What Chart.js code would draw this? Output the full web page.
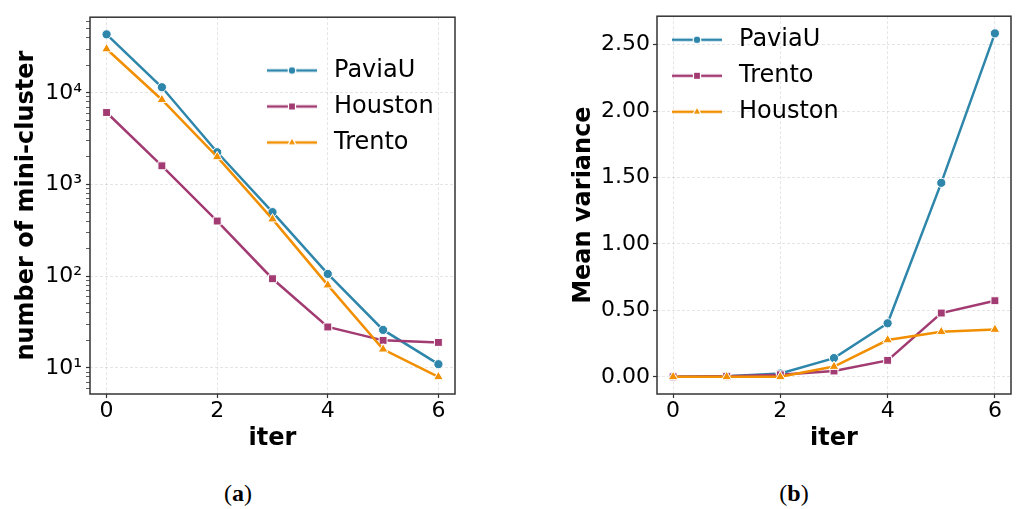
<!DOCTYPE html>
<html><head><meta charset="utf-8">
<script src="https://cdn.jsdelivr.net/npm/chart.js@4"></script>
<style>
html,body{margin:0;padding:0;background:#fff;width:1018px;height:509px;overflow:hidden;position:relative}
#c1{position:absolute;left:0;top:0}
#c2{position:absolute;left:540px;top:0}
.cap{position:absolute;top:479px;line-height:28px;font-family:'Liberation Serif','DejaVu Serif',serif;font-size:24px;color:#000;transform:translateX(-50%);white-space:nowrap}
</style></head><body>
<canvas id="c1" width="480" height="460"></canvas>
<canvas id="c2" width="478" height="460"></canvas>
<div class="cap" style="left:238px">(<b>a</b>)</div>
<div class="cap" style="left:794px">(<b>b</b>)</div>
<script>
// ---------- data ----------
const iters = [0, 1, 2, 3, 4, 5, 6];
const xTicks = [0, 2, 4, 6];

// (a) number of mini-cluster (log scale)
const paviaCount   = [43400, 11500, 2250, 500, 106, 26, 11];
const houstonCount = [6100, 1600, 400, 94, 28, 20, 19];
const trentoCount  = [30000, 8400, 2000, 420, 80, 16, 8];
const logMajorTicks = [10, 100, 1000, 10000];
const logMajorLabels = ['10\u00B9', '10\u00B2', '10\u00B3', '10\u2074'];

// (b) mean variance
const paviaVar   = [0.0, 0.004, 0.025, 0.141, 0.403, 1.46, 2.585];
const trentoVar  = [0.0, 0.004, 0.015, 0.044, 0.124, 0.48, 0.573];
const houstonVar = [0.0, 0.0, 0.0, 0.077, 0.277, 0.339, 0.356];
const varTicks = [0, 0.5, 1.0, 1.5, 2.0, 2.5];

// ---------- style ----------
const FONT = 'DejaVu Sans';
const BLUE = '#2E86AB', MAG = '#A23B72', ORANGE = '#F18F01';
const GRID = 'rgba(0,0,0,0.13)';
const SPINE = '#333333';
Chart.defaults.font.family = FONT;
Chart.defaults.color = '#000';

function legendIcon(color, shape) {
  const c = document.createElement('canvas');
  c.width = 58; c.height = 20;
  const g = c.getContext('2d');
  g.strokeStyle = color; g.lineWidth = 2.5;
  g.beginPath(); g.moveTo(3, 10); g.lineTo(53, 10); g.stroke();
  g.fillStyle = color; g.strokeStyle = '#fff'; g.lineWidth = 1.2;
  const cx = 28, cy = 10;
  g.beginPath();
  if (shape === 'circle') g.arc(cx, cy, 3.8, 0, Math.PI * 2);
  else if (shape === 'rect') g.rect(cx - 3.5, cy - 3.5, 7, 7);
  else { const r = 4.8; g.moveTo(cx, cy - r); g.lineTo(cx - r * 0.866, cy + r * 0.5); g.lineTo(cx + r * 0.866, cy + r * 0.5); g.closePath(); }
  g.fill(); g.stroke();
  return c;
}

const RADIUS = {circle: 4.6, rect: 5.6, triangle: 5.6};
function ds(label, ys, color, shape, order) {
  return {
    label, data: iters.map((x, i) => ({x, y: ys[i]})),
    borderColor: color, backgroundColor: color, borderWidth: 2.5,
    pointStyle: shape, pointRadius: RADIUS[shape], pointHoverRadius: RADIUS[shape],
    pointBackgroundColor: color, pointBorderColor: '#fff', pointBorderWidth: 1,
    tension: 0, order, _shape: shape
  };
}

const framePlugin = {
  id: 'frame',
  afterDraw(chart) {
    const {ctx, chartArea: a} = chart;
    ctx.save(); ctx.strokeStyle = SPINE; ctx.lineWidth = 1.5;
    ctx.strokeRect(a.left, a.top, a.right - a.left, a.bottom - a.top);
    ctx.restore();
  }
};
function placeLegend(x, y) {
  return {
    id: 'placeLegend',
    afterLayout(chart) {
      const lg = chart.legend; const w = lg.width, h = lg.height;
      lg.left = x; lg.top = y; lg.right = x + w; lg.bottom = y + h;
    }
  };
}

function legendOpts() {
  return {
    position: 'chartArea', align: 'start', maxWidth: 180,
    labels: {
      usePointStyle: true, pointStyleWidth: 58, padding: 12,
      font: {size: 24, family: FONT}, color: '#000',
      generateLabels(chart) {
        return chart.data.datasets.map((d, i) => ({
          text: d.label, pointStyle: legendIcon(d.borderColor, d._shape),
          fillStyle: d.borderColor, strokeStyle: d.borderColor, lineWidth: 0,
          fontColor: '#000', hidden: false, datasetIndex: i
        }));
      }
    }
  };
}

function xScale(xMin, xMax) {
  return {
    type: 'linear', min: xMin, max: xMax,
    afterBuildTicks(s) { s.ticks = xTicks.map(v => ({value: v})); },
    ticks: {callback: v => String(v), font: {size: 22}, padding: 0, autoSkip: false, maxRotation: 0, color: '#000'},
    grid: {color: GRID, lineWidth: 0.8, tickColor: SPINE, tickLength: 4, tickWidth: 1.2},
    border: {display: false, dash: [3, 2]},
    title: {display: true, text: 'iter', font: {size: 24, weight: 'bold'}, color: '#000', padding: {top: 0, bottom: 7}},
    afterFit(s) { s.height = 66; }
  };
}

function margins(lo, hi) { const r = hi - lo; return [lo - 0.05 * r, hi + 0.05 * r]; }
const [xMin, xMax] = margins(Math.min(...iters), Math.max(...iters));

// ---------- chart (a) ----------
const allCounts = paviaCount.concat(houstonCount, trentoCount);
const [lgMin, lgMax] = margins(Math.log10(Math.min(...allCounts)), Math.log10(Math.max(...allCounts)));
const yMinL = Math.pow(10, lgMin), yMaxL = Math.pow(10, lgMax);
const logTicks = [];
for (let e = Math.floor(lgMin); e <= Math.ceil(lgMax); e++) {
  for (let m = 1; m <= 9; m++) {
    const v = m * Math.pow(10, e);
    if (v >= yMinL && v <= yMaxL) logTicks.push(v);
  }
}
function majorIndex(v) { return logMajorTicks.findIndex(t => Math.abs(t - v) / t < 1e-6); }

new Chart(document.getElementById('c1'), {
  type: 'line',
  data: {datasets: [
    ds('PaviaU', paviaCount, BLUE, 'circle', 3),
    ds('Houston', houstonCount, MAG, 'rect', 2),
    ds('Trento', trentoCount, ORANGE, 'triangle', 1)
  ]},
  options: {
    responsive: false, animation: false, events: [],
    layout: {padding: {top: 11, right: 25, left: 0, bottom: 0}},
    plugins: {legend: legendOpts(), tooltip: {enabled: false}},
    scales: {
      x: xScale(xMin, xMax),
      y: {
        type: 'logarithmic', min: yMinL, max: yMaxL, bounds: 'data',
        afterBuildTicks(s) { s.ticks = logTicks.map(v => ({value: v})); },
        ticks: {
          callback: v => { const i = majorIndex(v); return i >= 0 ? logMajorLabels[i] : ''; },
          font: {size: 22}, padding: 4, autoSkip: false, color: '#000'
        },
        grid: {
          color: c => (c.tick && majorIndex(c.tick.value) >= 0) ? GRID : 'rgba(0,0,0,0)',
          lineWidth: 0.8, tickColor: SPINE, tickLength: 4,
          tickWidth: c => (c.tick && majorIndex(c.tick.value) >= 0) ? 1.2 : 0.8
        },
        border: {display: false, dash: [3, 2]},
        title: {display: true, text: 'number of mini-cluster', font: {size: 24, weight: 'bold'}, color: '#000', padding: {top: 12, bottom: 0}},
        afterFit(s) { s.width = 90; }
      }
    }
  },
  plugins: [framePlugin, placeLegend(252, 46.5)]
});

// ---------- chart (b) ----------
const allVar = paviaVar.concat(trentoVar, houstonVar);
const [vMin, vMax] = margins(Math.min(...allVar), Math.max(...allVar));

new Chart(document.getElementById('c2'), {
  type: 'line',
  data: {datasets: [
    ds('PaviaU', paviaVar, BLUE, 'circle', 3),
    ds('Trento', trentoVar, MAG, 'rect', 2),
    ds('Houston', houstonVar, ORANGE, 'triangle', 1)
  ]},
  options: {
    responsive: false, animation: false, events: [],
    layout: {padding: {top: 11, right: 7, left: 0, bottom: 0}},
    plugins: {legend: legendOpts(), tooltip: {enabled: false}},
    scales: {
      x: xScale(xMin, xMax),
      y: {
        type: 'linear', min: vMin, max: vMax,
        afterBuildTicks(s) { s.ticks = varTicks.map(v => ({value: v})); },
        ticks: {callback: v => v.toFixed(2), font: {size: 22}, padding: 3, autoSkip: false, color: '#000'},
        grid: {color: GRID, lineWidth: 0.8, tickColor: SPINE, tickLength: 4, tickWidth: 1.2},
        border: {display: false, dash: [3, 2]},
        title: {display: true, text: 'Mean variance', font: {size: 24, weight: 'bold'}, color: '#000', padding: {top: 29, bottom: 0}},
        afterFit(s) { s.width = 117; }
      }
    }
  },
  plugins: [framePlugin, placeLegend(117, 15.8)]
});
</script>
</body></html>
